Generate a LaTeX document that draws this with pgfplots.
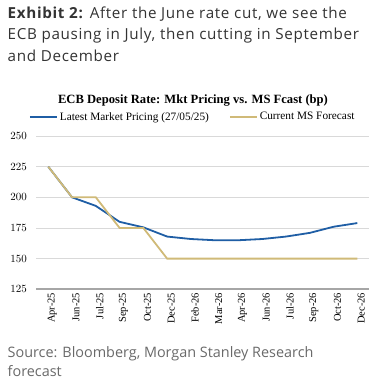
\documentclass[border=0pt]{standalone}
\usepackage{pgfplots}
\pgfplotsset{compat=1.18}
\usepackage{fontspec}
\setmainfont{Liberation Serif}
\newfontfamily\hdr[LetterSpace=4.5]{Open Sans}
\newfontfamily\src{Open Sans}
\definecolor{mblue}{RGB}{31,94,165}
\definecolor{mgold}{RGB}{208,186,120}
\definecolor{hdrcol}{RGB}{51,51,51}
\definecolor{srccol}{RGB}{105,105,105}
\begin{document}
\begin{tikzpicture}[x=1pt,y=1pt]
\path (0,0) rectangle (371,379);
\node[anchor=base west, inner sep=0, text=hdrcol, font=\hdr\fontsize{15.2}{17}\selectfont] at (7.5,360.5) {\textbf{Exhibit 2:} After the June rate cut, we see the};
\node[anchor=base west, inner sep=0, text=hdrcol, font=\hdr\fontsize{15.2}{17}\selectfont] at (7.5,339.5) {ECB pausing in July, then cutting in September};
\node[anchor=base west, inner sep=0, text=hdrcol, font=\hdr\fontsize{15.2}{17}\selectfont] at (7.5,317.5) {and December};
\node[anchor=base, inner sep=0, font=\bfseries\fontsize{12.6}{14}\selectfont] at (193,275) {ECB Deposit Rate: Mkt Pricing vs. MS Fcast (bp)};
\node[anchor=base west, inner sep=0, text=srccol, font=\src\fontsize{14.4}{16}\selectfont] at (7.5,21) {Source: Bloomberg, Morgan Stanley Research};
\node[anchor=base west, inner sep=0, text=srccol, font=\src\fontsize{14.4}{16}\selectfont] at (7.5,2.5) {forecast};
\begin{axis}[
  scale only axis, width=332.8pt, height=153.3pt,
  at={(36.4pt,89.7pt)}, anchor=south west,
  xmin=-0.5, xmax=13.5, ymin=125, ymax=250,
  ytick={125,150,...,250},
  xtick={0,...,13},
  xticklabels={Apr-25,Jun-25,Jul-25,Sep-25,Oct-25,Dec-25,Feb-26,Mar-26,Apr-26,Jun-26,Jul-26,Sep-26,Oct-26,Dec-26},
  xticklabel style={rotate=90, anchor=east, font=\fontsize{10.5}{12}\selectfont, yshift=-4pt},
  yticklabel style={font=\fontsize{11}{13}\selectfont, xshift=-6pt},
  ymajorgrids, grid style={draw=black!15, line width=0.8pt},
  axis lines=left, axis line style={-},
  y axis line style={draw=none},
  x axis line style={draw=black!35, line width=2pt},
  major tick length=0pt,
  legend style={at={(0.47,1.124)}, anchor=center, draw=none, fill=none, legend columns=2,
    font=\fontsize{11.3}{13}\selectfont, /tikz/every even column/.append style={column sep=18pt},
    inner sep=0pt},
  legend image code/.code={\draw[#1] (0pt,0pt) -- (27pt,0pt);},
  legend cell align=left,
]
\addplot[mblue, line width=1.8pt] coordinates {
(0,225) (1,200) (2,193) (3,180) (4,175.5) (5,168) (6,166) (7,165) (8,165) (9,166) (10,168) (11,171) (12,176) (13,179)};
\addplot[mgold, line width=1.8pt] coordinates {
(0,225) (1,200) (2,200) (3,175) (4,175) (5,150) (6,150) (7,150) (8,150) (9,150) (10,150) (11,150) (12,150) (13,150)};
\legend{Latest Market Pricing (27/05/25), Current MS Forecast}
\end{axis}
\end{tikzpicture}
\end{document}
